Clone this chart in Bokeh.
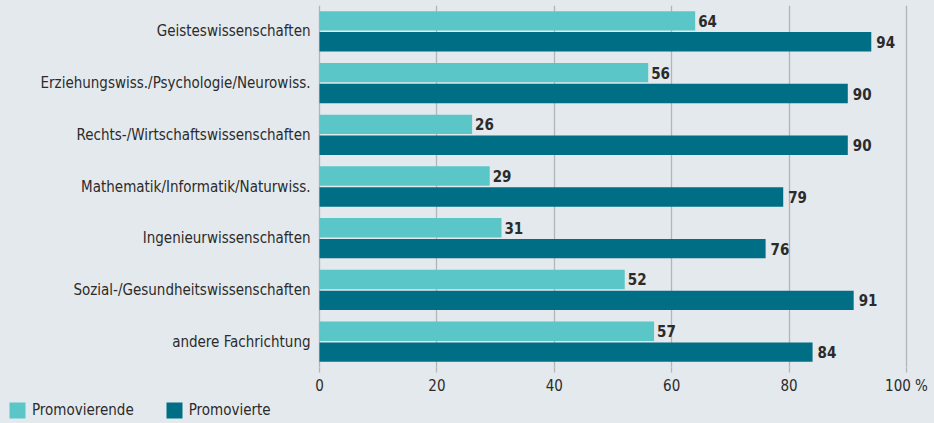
from bokeh.plotting import figure
from bokeh.layouts import column
from bokeh.models import ColumnDataSource, FactorRange, Range1d, FixedTicker, Legend, LegendItem
from bokeh.transform import dodge
from bokeh.core.properties import value
from bokeh.embed import file_html
from bokeh.resources import INLINE

categories = ["Geisteswissenschaften", "Erziehungswiss./Psychologie/Neurowiss.",
              "Rechts-/Wirtschaftswissenschaften", "Mathematik/Informatik/Naturwiss.",
              "Ingenieurwissenschaften", "Sozial-/Gesundheitswissenschaften",
              "andere Fachrichtung"]
promovierende = [64, 56, 26, 29, 31, 52, 57]
promovierte = [94, 90, 90, 79, 76, 91, 84]
series_names = ["Promovierende", "Promovierte"]
x_ticks = [0, 20, 40, 60, 80, 100]

FONT = "DejaVu Sans Condensed"
BG = "#e4e9ed"
LIGHT = "#5ac6c8"
DARK = "#006e84"
TXT = "#2b2b2b"
GRID = "#b3b5b8"

src = ColumnDataSource(dict(cat=categories, a=promovierende, b=promovierte,
                            la=[str(v) for v in promovierende], lb=[str(v) for v in promovierte],
                            zero=[0] * len(categories)))

# x scale: 0 at 319 px, 100 at 906 px across a full-width frame
px_per_unit = (906 - 319) / 100
p = figure(width=934, height=397, output_backend="svg", toolbar_location=None,
           y_range=FactorRange(factors=categories[::-1], range_padding=0),
           x_range=Range1d(-319 / px_per_unit, (934 - 319) / px_per_unit),
           min_border_left=0, min_border_right=0, min_border_top=5, min_border_bottom=28,
           background_fill_color=BG, border_fill_color=BG,
           styles={"background-color": BG})
p.outline_line_color = None

off = 10.5 / 52
h = 19.5 / 52
p.hbar(y=dodge("cat", off, range=p.y_range), right="a", left="zero", height=h,
       source=src, fill_color=LIGHT, line_color=None)
p.hbar(y=dodge("cat", -off, range=p.y_range), right="b", left="zero", height=h,
       source=src, fill_color=DARK, line_color=None)

p.text(x="a", y=dodge("cat", off, range=p.y_range), text="la", source=src,
       x_offset=3, text_baseline="middle", text_align="left",
       text_font=value(FONT), text_font_style="bold", text_font_size="15px", text_color=TXT)
p.text(x="b", y=dodge("cat", -off, range=p.y_range), text="lb", source=src,
       x_offset=5, text_baseline="middle", text_align="left",
       text_font=value(FONT), text_font_style="bold", text_font_size="15px", text_color=TXT)

# category labels
p.text(x="zero", y="cat", text="cat", source=src, x_offset=-9,
       text_baseline="middle", text_align="right",
       text_font=value(FONT), text_font_size="15px", text_color=TXT)

p.ygrid.grid_line_color = None
p.xgrid.ticker = FixedTicker(ticks=x_ticks)
p.xgrid.grid_line_color = GRID
p.xgrid.grid_line_width = 1.3

p.yaxis.visible = False
p.xaxis.ticker = FixedTicker(ticks=x_ticks)
p.xaxis.axis_line_color = None
p.xaxis.major_tick_line_color = GRID
p.xaxis.major_tick_line_width = 1.3
p.xaxis.major_tick_out = 5
p.xaxis.major_tick_in = 0
p.xaxis.minor_tick_line_color = None
p.xaxis.major_label_standoff = 4
p.xaxis.major_label_overrides = {100: "100 %"}
p.xaxis.major_label_text_font = FONT
p.xaxis.major_label_text_font_size = "15px"
p.xaxis.major_label_text_color = TXT

# legend strip below the chart
p2 = figure(width=934, height=26, output_backend="svg", toolbar_location=None,
            x_range=Range1d(0, 1), y_range=Range1d(0, 1),
            min_border_left=0, min_border_right=0, min_border_top=0, min_border_bottom=0,
            background_fill_color=BG, border_fill_color=BG,
            styles={"background-color": BG})
p2.outline_line_color = None
p2.axis.visible = False
p2.grid.visible = False
swatch = ColumnDataSource(dict(y=[-5], r=[-4], l=[-5]))
sa = p2.hbar(y="y", right="r", left="l", height=0.5, source=swatch, fill_color=LIGHT, line_color=None)
sb = p2.hbar(y="y", right="r", left="l", height=0.5, source=swatch, fill_color=DARK, line_color=None)
legend = Legend(items=[LegendItem(label=series_names[0], renderers=[sa]),
                       LegendItem(label=series_names[1], renderers=[sb])],
                orientation="horizontal", location=(7, 3),
                background_fill_alpha=0, border_line_color=None,
                glyph_width=20, glyph_height=20, label_height=20, label_text_font=FONT,
                label_text_font_size="15px", label_text_color=TXT,
                label_text_baseline="middle",
                spacing=30, padding=0, margin=0, label_standoff=5)
p2.add_layout(legend)

layout = column(p, p2, spacing=0, styles={"background-color": BG})
open("out.html", "w").write(file_html(layout, INLINE))
